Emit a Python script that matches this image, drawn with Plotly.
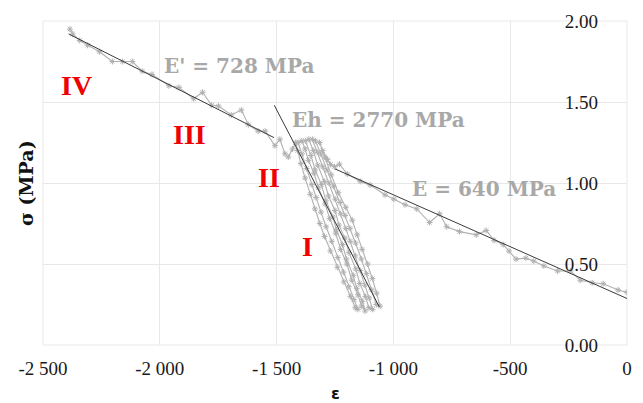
import plotly.graph_objects as go

# ---- data (strain in µε, stress in MPa) ----
strain_E = [0, -38, -102, -149, -200, -242, -297, -356, -399, -433, -475, -505, -530, -569,
            -603, -645, -717, -772, -802, -845, -900, -950, -998, -1036, -1099, -1142, -1197,
            -1231, -1252, -1269, -1282, -1303]
stress_E = [0.325, 0.34, 0.378, 0.384, 0.40, 0.457, 0.457, 0.488, 0.518, 0.536, 0.53, 0.58, 0.62, 0.646,
            0.707, 0.68, 0.70, 0.73, 0.81, 0.756, 0.84, 0.866, 0.90, 0.927, 0.987, 1.01, 1.055,
            1.116, 1.10, 1.115, 1.146, 1.20]

# loading / unloading cycles (phase I - II)
strain_cyc = [-1316, -1294, -1266, -1236, -1204, -1176, -1155, -1134, -1110, -1090, -1072, -1057,
              -1073, -1093, -1115, -1137, -1162, -1186, -1207, -1228, -1256, -1284, -1311, -1334,
              -1347, -1326, -1302, -1276, -1249, -1226, -1204, -1185, -1163, -1142, -1122, -1104, -1089,
              -1105, -1120, -1144, -1161, -1190, -1208, -1233, -1250, -1278, -1296, -1324, -1343, -1362,
              -1377, -1353, -1335, -1308, -1289, -1259, -1244, -1218, -1201, -1172, -1157, -1133, -1121,
              -1136, -1152, -1178, -1199, -1226, -1247, -1273, -1292, -1321, -1340, -1364, -1378, -1392,
              -1408, -1392, -1372, -1349, -1331, -1310, -1288, -1264, -1238, -1214, -1191, -1169, -1152,
              -1163, -1184, -1212, -1240, -1270, -1295, -1315, -1336, -1356, -1378, -1396, -1410, -1418,
              -1432, -1450]
stress_cyc = [1.25, 1.16, 1.05, 0.94, 0.85, 0.77, 0.68, 0.59, 0.50, 0.41, 0.32, 0.24,
              0.25, 0.34, 0.44, 0.53, 0.63, 0.72, 0.80, 0.88, 0.98, 1.08, 1.18, 1.26,
              1.27, 1.19, 1.10, 1.00, 0.90, 0.81, 0.72, 0.64, 0.55, 0.46, 0.37, 0.29, 0.22,
              0.23, 0.30, 0.38, 0.47, 0.57, 0.66, 0.74, 0.83, 0.92, 1.01, 1.11, 1.20, 1.27,
              1.26, 1.17, 1.08, 0.99, 0.89, 0.79, 0.71, 0.62, 0.53, 0.43, 0.35, 0.27, 0.21,
              0.24, 0.31, 0.40, 0.50, 0.59, 0.69, 0.78, 0.87, 0.97, 1.06, 1.14, 1.21, 1.26,
              1.25, 1.18, 1.09, 0.99, 0.91, 0.82, 0.73, 0.64, 0.54, 0.45, 0.36, 0.28, 0.22,
              0.23, 0.30, 0.39, 0.48, 0.58, 0.67, 0.75, 0.84, 0.93, 1.03, 1.12, 1.20, 1.25,
              1.21, 1.16]

strain_Ep = [-1464, -1486, -1507, -1549, -1579, -1621, -1651, -1694, -1749, -1778, -1817, -1855,
             -1918, -1961, -2033, -2075, -2118, -2160, -2203, -2258, -2309, -2343, -2373, -2385]
stress_Ep = [1.18, 1.27, 1.23, 1.32, 1.32, 1.36, 1.45, 1.42, 1.475, 1.48, 1.56, 1.52,
             1.59, 1.60, 1.67, 1.69, 1.75, 1.75, 1.75, 1.81, 1.85, 1.88, 1.92, 1.95]

# fitted lines
fit_Ep_x = [-2390, -1511]
fit_Ep_y = [1.92, 1.28]
fit_Eh_x = [-1510, -1060]
fit_Eh_y = [1.48, 0.235]
fit_E_x = [-1250, 0]
fit_E_y = [1.087, 0.287]

x_tickvals = [-2500, -2000, -1500, -1000, -500, 0]
x_ticktext = ["-2 500", "-2 000", "-1 500", "-1 000", "-500", "0"]
y_tickvals = [0, 0.5, 1.0, 1.5, 2.0]
y_ticktext = ["0.00", "0.50", "1.00", "1.50", "2.00"]

strain = strain_E + strain_cyc + strain_Ep
stress = stress_E + stress_cyc + stress_Ep

fig = go.Figure()
fig.add_trace(go.Scatter(
    x=strain, y=stress, mode="lines+markers",
    line=dict(color="#b0b0b0", width=1.1),
    marker=dict(symbol="asterisk-open", size=5, color="#b0b0b0",
                line=dict(color="#b0b0b0", width=1)),
    showlegend=False, hoverinfo="skip"))
for fx, fy in [(fit_Ep_x, fit_Ep_y), (fit_Eh_x, fit_Eh_y), (fit_E_x, fit_E_y)]:
    fig.add_trace(go.Scatter(x=fx, y=fy, mode="lines",
                             line=dict(color="#3a3a3a", width=1),
                             showlegend=False, hoverinfo="skip"))

grid = "#e8e8e8"
serif = "Liberation Serif"
tickfont = dict(family=serif, size=19, color="#1a1a1a")
fig.update_layout(
    width=643, height=403,
    font=dict(family=serif, size=19, color="#1a1a1a"),
    margin=dict(l=43, r=11, t=18, b=58),
    paper_bgcolor="white", plot_bgcolor="white",
    xaxis=dict(range=[-2500, 0], tickvals=x_tickvals, ticktext=x_ticktext,
               showgrid=True, gridcolor=grid, gridwidth=1, zeroline=False,
               showline=False, ticks="", tickfont=tickfont, ticklabelstandoff=10),
    yaxis=dict(range=[0, 2], tickvals=y_tickvals, ticktext=y_ticktext,
               showgrid=True, gridcolor=grid, gridwidth=1, zeroline=False,
               showline=False, ticks="", side="right", anchor="free", position=0.89,
               tickfont=tickfont, ticklabelstandoff=1),
    shapes=[dict(type="rect", xref="paper", yref="paper", x0=0, y0=0, x1=1, y1=1,
                 line=dict(color=grid, width=1), layer="below")],
)

gray = "#a8a8a8"
afont = dict(family="DejaVu Serif", size=20, color=gray)
rfont = dict(family=serif, size=28, color="#f00000")
ann = [
    dict(x=-1660, y=1.72, text="<b>E' = 728 MPa</b>", font=afont),
    dict(x=-1065, y=1.39, text="<b>Eh = 2770 MPa</b>", font=afont),
    dict(x=-613, y=0.963, text="<b>E = 640 MPa</b>", font=afont),
    dict(x=-2358, y=1.604, text="<b>IV</b>", font=rfont),
    dict(x=-1874, y=1.299, text="<b>III</b>", font=rfont),
    dict(x=-1532, y=1.037, text="<b>II</b>", font=rfont),
    dict(x=-1367, y=0.61, text="<b>I</b>", font=rfont),
]
for a in ann:
    fig.add_annotation(xref="x", yref="y", showarrow=False,
                       xanchor="center", yanchor="middle", **a)
fig.add_annotation(xref="paper", yref="paper", x=-0.029, y=0.5, textangle=-90,
                   text="<b>σ (MPa)</b>", showarrow=False, xanchor="center", yanchor="middle",
                   font=dict(family="DejaVu Serif", size=19, color="#111111"))
fig.add_annotation(xref="paper", yref="paper", x=(338 - 43) / 589, y=-(394 - 345) / 327,
                   text="<b>ε</b>", showarrow=False, xanchor="center", yanchor="middle",
                   font=dict(family="DejaVu Sans", size=16, color="#111111"))

fig.write_html("out.html")
